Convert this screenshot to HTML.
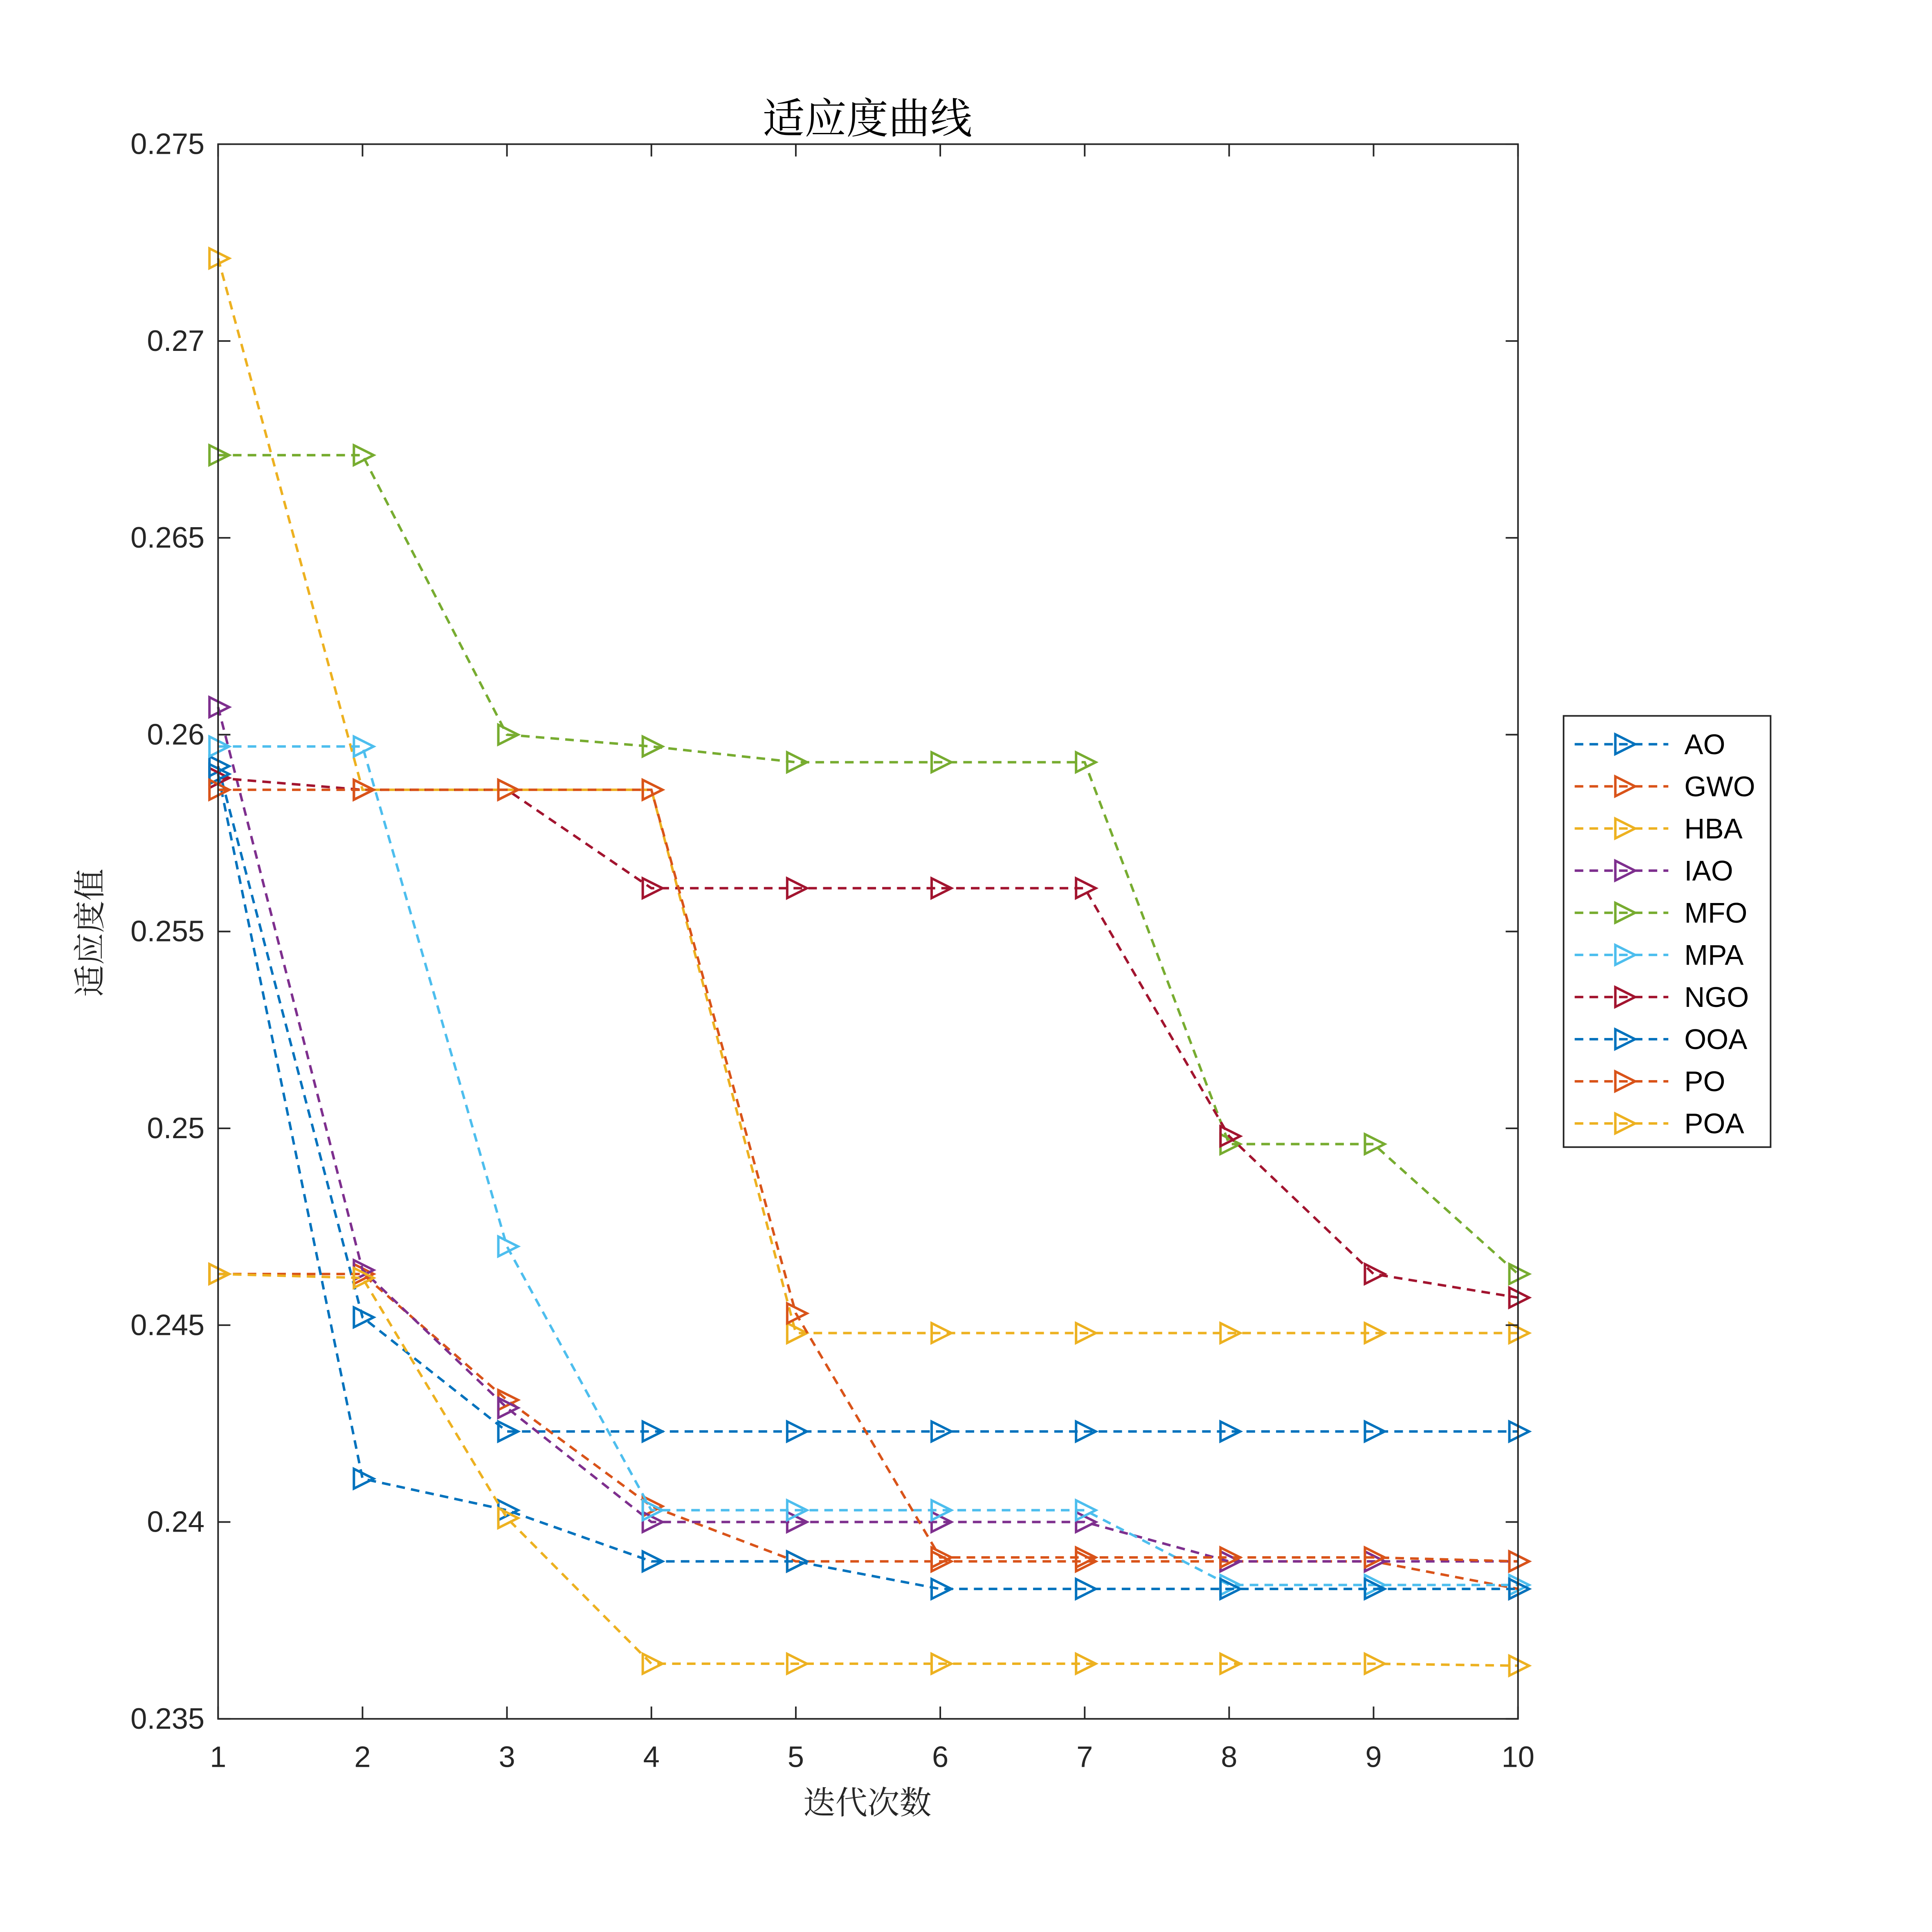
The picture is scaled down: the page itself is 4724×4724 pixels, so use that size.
<!DOCTYPE html>
<html><head><meta charset="utf-8"><style>html,body{margin:0;padding:0;background:#fff}svg{display:block}</style></head>
<body>
<svg id="s" width="4724" height="4724" viewBox="0 0 1568 1568" xmlns="http://www.w3.org/2000/svg" font-family="Liberation Sans, Arial, sans-serif">
<rect width="1568" height="1568" fill="#fff"/>
<g id="plot"></g>
<rect x="177" y="117" width="1055" height="1278" fill="none" stroke="#262626" stroke-width="1.3"/>
<g id="ticks" stroke="#262626" stroke-width="1.3"></g>
<g id="lab" font-size="24" fill="#262626"></g>
<text x="704" y="108" font-size="34" text-anchor="middle" fill="#000" font-family="Noto Serif CJK SC, Noto Sans CJK SC, serif">适应度曲线</text>
<text x="704" y="1472" font-size="26" text-anchor="middle" fill="#262626" font-family="Noto Serif CJK SC, Noto Sans CJK SC, serif">迭代次数</text>
<text transform="translate(82,757) rotate(-90)" font-size="26" text-anchor="middle" fill="#262626" font-family="Noto Serif CJK SC, Noto Sans CJK SC, serif">适应度值</text>
<rect x="1269" y="581" width="168" height="350" fill="#fff" stroke="#262626" stroke-width="1.3"/>
<g id="leg" font-size="23" fill="#000"></g>
</svg>
<script>
var NS="http://www.w3.org/2000/svg";
function el(t,a,p,txt){var e=document.createElementNS(NS,t);for(var k in a)e.setAttribute(k,a[k]);if(txt!==undefined)e.textContent=txt;document.getElementById(p).appendChild(e);return e;}
function X(i){return 177+(i-1)*(1055/9);}
function Y(v){return 117+(0.275-v)*31950;}
var S=[
["AO","#0072BD",[0.2592,0.2452,0.2423,0.2423,0.2423,0.2423,0.2423,0.2423,0.2423,0.2423]],
["GWO","#D95319",[0.2463,0.2463,0.2431,0.2404,0.2390,0.2390,0.2390,0.2390,0.2390,0.2383]],
["HBA","#EDB120",[0.2721,0.2586,0.2586,0.2586,0.2448,0.2448,0.2448,0.2448,0.2448,0.2448]],
["IAO","#7E2F8E",[0.2607,0.2464,0.2429,0.2400,0.2400,0.2400,0.2400,0.2390,0.2390,0.2390]],
["MFO","#77AC30",[0.2671,0.2671,0.2600,0.2597,0.2593,0.2593,0.2593,0.2496,0.2496,0.2463]],
["MPA","#4DBEEE",[0.2597,0.2597,0.2470,0.2403,0.2403,0.2403,0.2403,0.2384,0.2384,0.2384]],
["NGO","#A2142F",[0.2589,0.2586,0.2586,0.2561,0.2561,0.2561,0.2561,0.2498,0.2463,0.2457]],
["OOA","#0072BD",[0.2590,0.2411,0.2403,0.2390,0.2390,0.2383,0.2383,0.2383,0.2383,0.2383]],
["PO","#D95319",[0.2586,0.2586,0.2586,0.2586,0.2453,0.2391,0.2391,0.2391,0.2391,0.2390]],
["POA","#EDB120",[0.2463,0.2462,0.2401,0.2364,0.2364,0.2364,0.2364,0.2364,0.2364,0.23635]]];
function tri(x,y){return (x-7)+","+(y-8)+" "+(x+9)+","+y+" "+(x-7)+","+(y+8);}
S.forEach(function(s,k){
 var pts=s[2].map(function(v,i){return X(i+1)+","+Y(v);}).join(" ");
 el("polyline",{points:pts,fill:"none",stroke:s[1],"stroke-width":2,"stroke-dasharray":"7,5"},"plot");
 s[2].forEach(function(v,i){el("polygon",{points:tri(X(i+1),Y(v)),fill:"none",stroke:s[1],"stroke-width":2},"plot");});
 var ly=604+k*34.2;
 el("line",{x1:1278,y1:ly,x2:1354,y2:ly,stroke:s[1],"stroke-width":2,"stroke-dasharray":"7,5"},"leg");
 el("polygon",{points:tri(1318,ly),fill:"none",stroke:s[1],"stroke-width":2},"leg");
 el("text",{x:1367,y:ly+8},"leg",s[0]);
});
for(var i=1;i<=10;i++){var x=X(i);
 el("line",{x1:x,y1:1395,x2:x,y2:1385},"ticks");el("line",{x1:x,y1:117,x2:x,y2:127},"ticks");
 el("text",{x:x,y:1434,"text-anchor":"middle"},"lab",String(i));}
var yl=["0.235","0.24","0.245","0.25","0.255","0.26","0.265","0.27","0.275"];
for(var j=0;j<9;j++){var v=0.235+j*0.005,y=Y(v);
 el("line",{x1:177,y1:y,x2:187,y2:y},"ticks");el("line",{x1:1232,y1:y,x2:1222,y2:y},"ticks");
 el("text",{x:166,y:y+8,"text-anchor":"end"},"lab",yl[j]);}
</script>
</body></html>
